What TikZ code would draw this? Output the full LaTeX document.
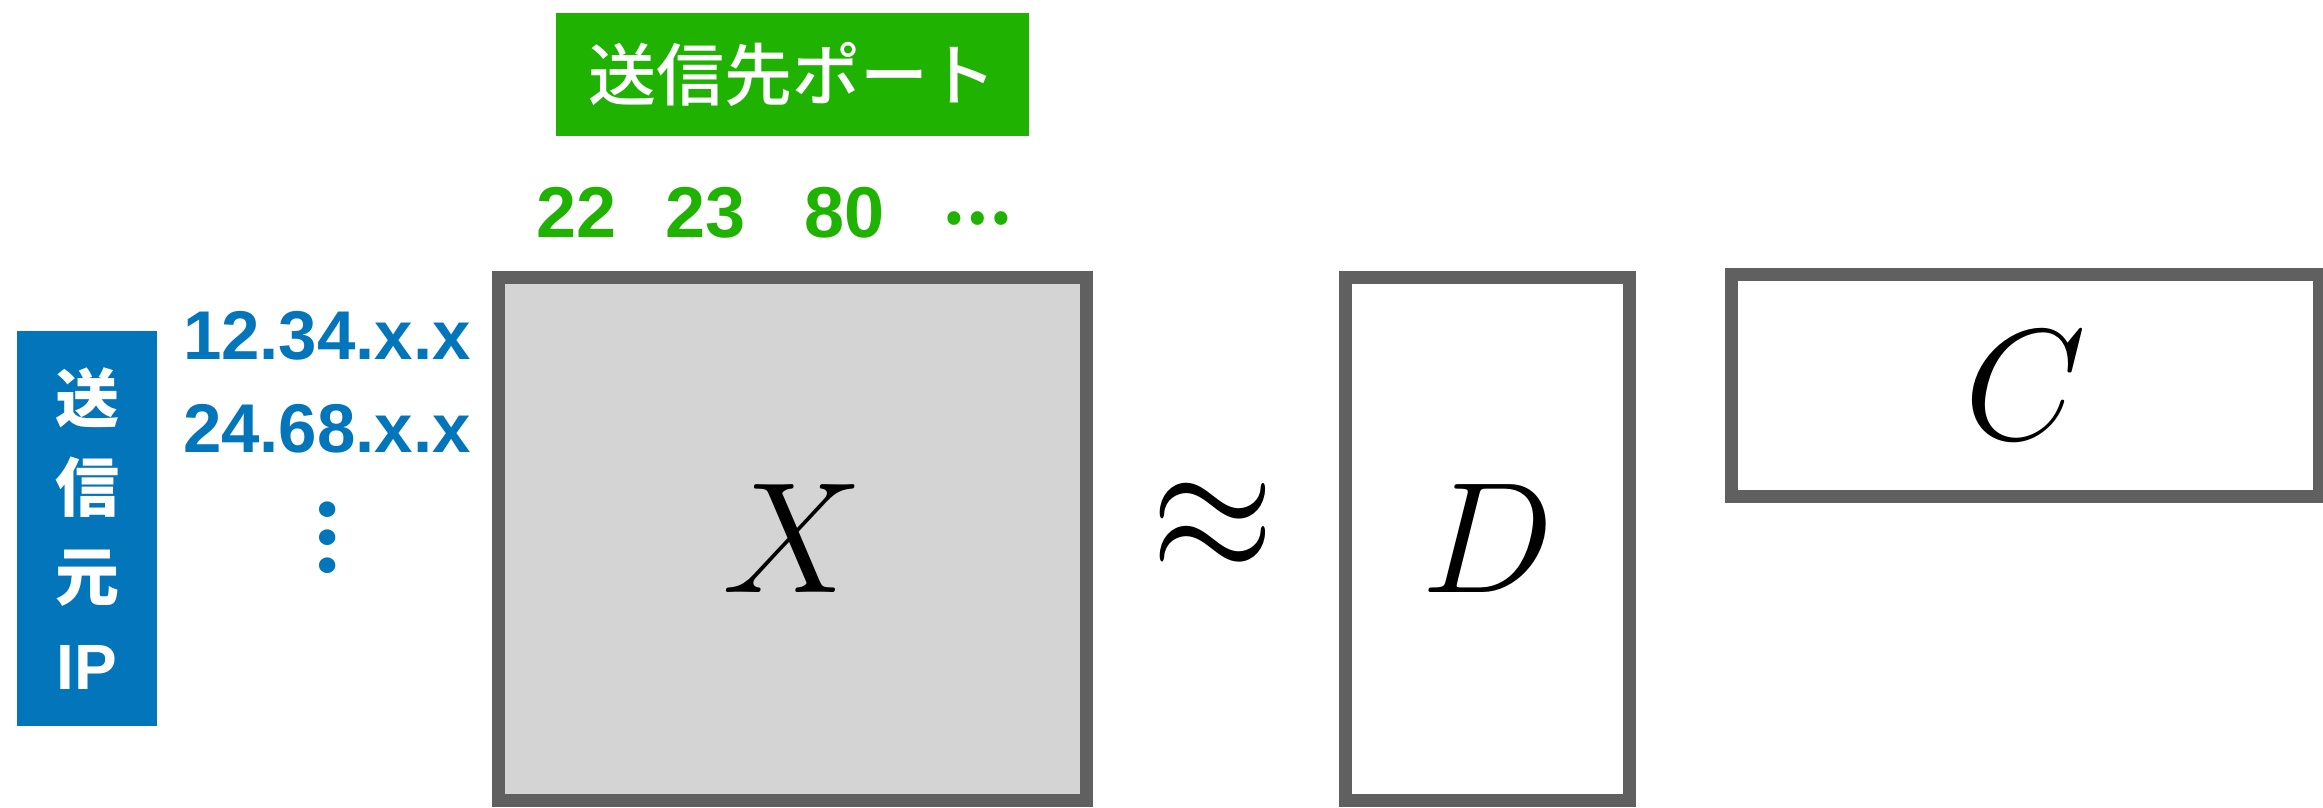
\documentclass[tikz,border=0pt]{standalone}
\usepackage{fix-cm}
\usepackage{fontspec}
\setmainfont{Liberation Sans}
\newfontfamily\jpfont{Noto Sans CJK JP}
\newfontfamily\jpmid{Noto Sans CJK JP Medium}
\definecolor{bordergray}{RGB}{96,96,96}
\definecolor{cellgray}{RGB}{212,212,212}
\definecolor{portgreen}{RGB}{31,178,0}
\definecolor{srcblue}{RGB}{2,117,187}

\begin{document}
\begin{tikzpicture}[
  x=1pt, y=-1pt,
  % 行列の枠：線幅 13px、色は枠のグレー
  matbox/.style={draw=bordergray, line width=13pt},
  mathlabel/.style={font=\fontsize{158}{158}\selectfont},
  porttext/.style={text=portgreen, font=\fontsize{72}{72}\selectfont\bfseries},
  iptext/.style={text=srcblue, font=\fontsize{69}{69}\selectfont\bfseries},
  every node/.style={inner sep=0pt}
]
  \useasboundingbox (0,0) rectangle (2323,807);
  % ---- 見出し ----
  \node[fill=portgreen, text=white, minimum width=473, minimum height=123,
        font=\jpmid\fontsize{68}{68}\selectfont] (dst) at (792.5,74.5) {送信先ポート};
  \node[fill=srcblue, text=white, minimum width=140, minimum height=395, align=center,
        font=\fontsize{64}{89}\selectfont\bfseries] (src) at (87,528.5)
        {{\jpmid 送}\\{\jpmid 信}\\{\jpmid 元}\\IP};
  % ---- ポート番号 ----
  \node[porttext, anchor=base] (p22) at (577,237) {22};
  \node[porttext, anchor=base] (p23) at (706,237) {23};
  \node[porttext, anchor=base] (p80) at (844.5,237) {80};
  \node[text=portgreen, font=\jpfont\bfseries\fontsize{62}{62}\selectfont] (pdots) at (977.5,219) {…};
  % ---- 送信元 IP ----
  \node[iptext, anchor=base east] (ip1) at (471,359) {12.34.x.x};
  \node[iptext, anchor=base east] (ip2) at (471,452) {24.68.x.x};
  \node[text=srcblue, font=\jpfont\bfseries\fontsize{74}{74}\selectfont, rotate=-90] (ipdots) at (328,537) {…};
  % ---- 行列 X ≈ D C ----
  \node[matbox, fill=cellgray, minimum width=588, minimum height=523, mathlabel] (X) at (792.5,539) {$X$};
  \node[mathlabel] (approx) at (1213,527.5) {\scalebox{1}[1.17]{$\approx$}};
  \node[matbox, fill=white, minimum width=284, minimum height=523, mathlabel] (D) at (1487.5,539) {$D$};
  \node[matbox, fill=white, minimum width=588, minimum height=222, mathlabel] (C) at (2025.5,385.5) {$C$};
\end{tikzpicture}
\end{document}
